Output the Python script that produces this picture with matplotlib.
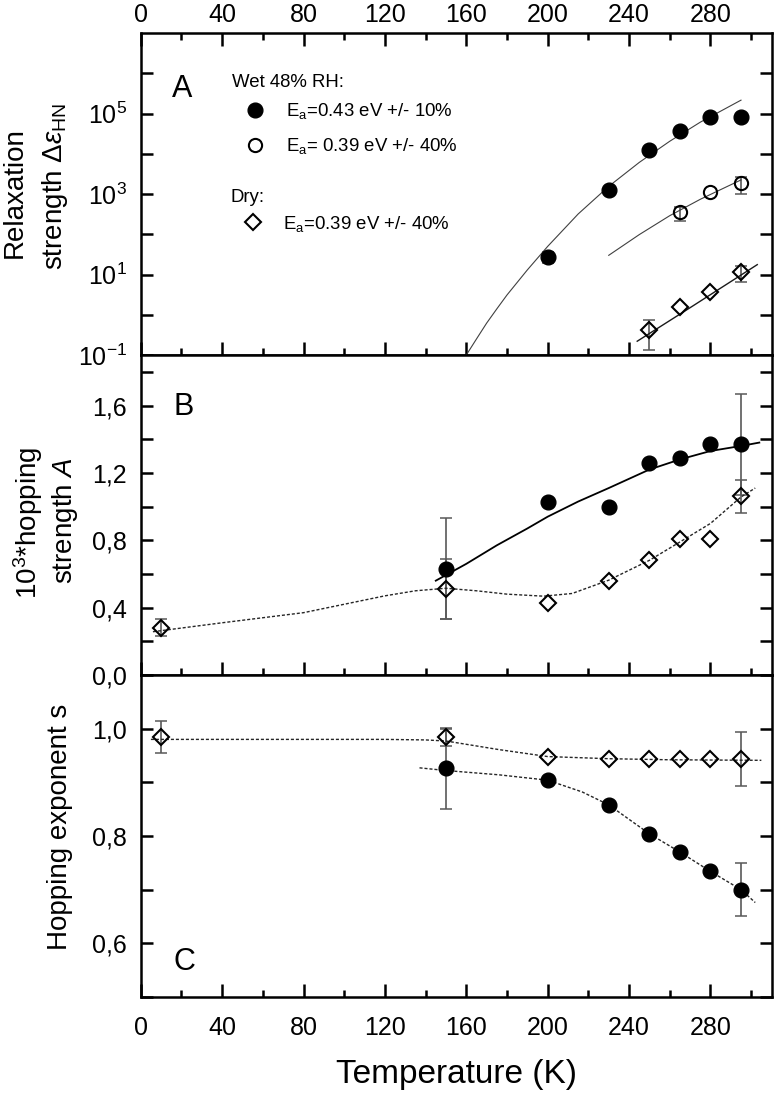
import matplotlib
matplotlib.use("Agg")
import matplotlib.pyplot as plt
import numpy as np
from matplotlib.ticker import FixedLocator, MultipleLocator, FuncFormatter, NullFormatter

plt.rcParams['font.family'] = ['Liberation Sans', 'DejaVu Sans']
plt.rcParams['mathtext.fontset'] = 'custom'
plt.rcParams['mathtext.rm'] = 'Liberation Sans'
plt.rcParams['mathtext.it'] = 'Liberation Sans:italic'
plt.rcParams['mathtext.default'] = 'regular'

# ---- Panel A: relaxation strength (log)
T_a_wet = [200, 230, 250, 265, 280, 295]
de_wet = [28, 1260, 12300, 37000, 80000, 80000]
de_wet_lo = [9, 0, 0, 0, 0, 0]
de_wet_hi = [9, 0, 0, 0, 0, 0]

T_a_wet2 = [265, 280, 295]
de_wet2 = [360, 1140, 1830]
de_wet2_lo = [150, 0, 800]
de_wet2_hi = [110, 0, 860]

T_a_dry = [250, 265, 280, 295]
de_dry = [0.43, 1.55, 3.6, 11.4]
de_dry_lo = [0.30, 0, 0, 4.7]
de_dry_hi = [0.29, 0, 0, 4.6]

# fit curves
fitA_wet_T = [160, 165, 170, 175, 180, 190, 200, 215, 230, 245, 260, 275, 295]
fitA_wet = [0.10, 0.25, 0.62, 1.4, 3.1, 13, 50, 320, 1550, 6100, 20500, 61000, 215000]
fitA_wet2_T = [230, 245, 260, 275, 295]
fitA_wet2 = [30, 98, 290, 740, 2240]
fitA_dry_T = [244, 270, 303]
fitA_dry = [0.22, 1.5, 17.6]

# ---- Panel B: hopping strength
T_b_wet = [150, 200, 230, 250, 265, 280, 295]
A_wet = [0.63, 1.03, 1.00, 1.26, 1.29, 1.37, 1.37]
A_wet_err = [0.30, 0, 0, 0, 0, 0, 0.30]
T_b_dry = [10, 150, 200, 230, 250, 265, 280, 295]
A_dry = [0.28, 0.51, 0.43, 0.56, 0.68, 0.81, 0.81, 1.06]
A_dry_err = [0.05, 0.18, 0, 0, 0, 0, 0, 0.10]

fitB_wet_T = [145, 160, 175, 190, 200, 215, 230, 250, 265, 280, 295, 304]
fitB_wet = [0.56, 0.66, 0.77, 0.87, 0.94, 1.03, 1.11, 1.22, 1.28, 1.33, 1.36, 1.38]
fitB_dry_T = [6, 40, 80, 120, 135, 150, 165, 180, 198, 212, 230, 250, 265, 280, 295, 302]
fitB_dry = [0.257, 0.31, 0.37, 0.47, 0.50, 0.515, 0.50, 0.48, 0.468, 0.484, 0.563, 0.681, 0.79, 0.90, 1.057, 1.11]

# ---- Panel C: hopping exponent
T_c_wet = [150, 200, 230, 250, 265, 280, 295]
s_wet = [0.926, 0.905, 0.858, 0.804, 0.770, 0.734, 0.700]
s_wet_err = [0.075, 0, 0, 0, 0, 0, 0.05]
T_c_dry = [10, 150, 200, 230, 250, 265, 280, 295]
s_dry = [0.984, 0.984, 0.948, 0.944, 0.943, 0.943, 0.943, 0.943]
s_dry_err = [0.03, 0.016, 0, 0, 0, 0, 0, 0.05]

fitC_wet_T = [137, 150, 176, 200, 217, 230, 250, 265, 280, 295, 302]
fitC_wet = [0.927, 0.922, 0.914, 0.904, 0.882, 0.858, 0.804, 0.770, 0.734, 0.700, 0.676]
fitC_dry_T = [5, 60, 120, 140, 150, 176, 200, 230, 260, 305]
fitC_dry = [0.980, 0.980, 0.980, 0.979, 0.977, 0.961, 0.948, 0.944, 0.942, 0.941]

x_ticks = [0, 40, 80, 120, 160, 200, 240, 280]

filled = dict(marker='o', ls='none', ms=10.6, mfc='k', mec='k', zorder=4)
opened = dict(marker='o', ls='none', ms=9.5, mfc='none', mec='k', mew=1.5, zorder=4)
diamond = dict(marker='D', ls='none', ms=7.9, mfc='none', mec='k', mew=1.5, zorder=4)
dashed = dict(color='0.15', lw=1.0, dashes=(2.2, 1.4), zorder=3)
leg_font = dict(family='Liberation Sans', size=13.4)


def barras(ax, T, y, lo, hi):
    idx = [i for i in range(len(T)) if lo[i] > 0 or hi[i] > 0]
    ax.errorbar([T[i] for i in idx], [y[i] for i in idx],
                yerr=[[lo[i] for i in idx], [hi[i] for i in idx]],
                fmt='none', ecolor='0.35', elinewidth=1.2, capsize=4.6,
                capthick=1.1, zorder=2)


def coma(v, p):
    return ('%.1f' % v).replace('.', ',')


def estilo(ax, top_labels=False, bottom_labels=False, top_ticks=False):
    ax.set_xlim(0, 310)
    ax.xaxis.set_major_locator(FixedLocator(x_ticks))
    ax.xaxis.set_minor_locator(MultipleLocator(20))
    ax.tick_params(axis='both', which='both', direction='in', width=1.8,
                   labelsize=18, right=True, top=top_ticks,
                   labeltop=top_labels, labelbottom=bottom_labels)
    ax.tick_params(axis='y', which='both', length=8.6, pad=10)
    ax.tick_params(axis='x', which='major', length=9.4)
    ax.tick_params(axis='x', which='minor', length=5)
    ax.tick_params(axis='x', which='both', pad=14 if bottom_labels else 4.5)
    for s in ax.spines.values():
        s.set_linewidth(1.8)


fig = plt.figure(figsize=(7.74, 10.94), dpi=100)
ax_a = fig.add_axes([0.1818, 0.6755, 0.8150, 0.2943])
ax_b = fig.add_axes([0.1818, 0.3830, 0.8150, 0.2925])
ax_c = fig.add_axes([0.1818, 0.0887, 0.8150, 0.2943])

# ---- panel A
ax_a.set_yscale('log')
ax_a.set_ylim(1e-1, 1e7)
ax_a.plot(fitA_wet_T, fitA_wet, color='0.25', lw=0.8, zorder=3)
ax_a.plot(fitA_wet2_T, fitA_wet2, color='0.25', lw=0.8, zorder=3)
ax_a.plot(fitA_dry_T, fitA_dry, color='0.1', lw=1.0, zorder=3)
barras(ax_a, T_a_wet, de_wet, de_wet_lo, de_wet_hi)
barras(ax_a, T_a_wet2, de_wet2, de_wet2_lo, de_wet2_hi)
barras(ax_a, T_a_dry, de_dry, de_dry_lo, de_dry_hi)
h1, = ax_a.plot(T_a_wet, de_wet, **filled)
h2, = ax_a.plot(T_a_wet2, de_wet2, **opened)
h3, = ax_a.plot(T_a_dry, de_dry, **diamond)
estilo(ax_a, top_labels=True, top_ticks=True)
ax_a.yaxis.set_major_locator(FixedLocator([1e-1, 1e1, 1e3, 1e5]))
ax_a.yaxis.set_minor_locator(FixedLocator([1e0, 1e2, 1e4, 1e6]))
ax_a.yaxis.set_major_formatter(FuncFormatter(
    lambda v, p: r'$10^{%d}$' % round(np.log10(v))))
ax_a.yaxis.set_minor_formatter(NullFormatter())
ax_a.text(0.0492, 0.800, 'A', transform=ax_a.transAxes, fontsize=22,
          ha='left', va='baseline')

# leyendas: cabeceras como texto, entradas con legend()
ax_a.text(0.1444, 0.8314, 'Wet 48% RH:', transform=ax_a.transAxes,
          fontsize=13.4, ha='left', va='baseline')
ax_a.text(0.1417, 0.4761, 'Dry:', transform=ax_a.transAxes,
          fontsize=13.4, ha='left', va='baseline')
leg1 = ax_a.legend(handles=[h1, h2],
                   labels=['E$_a$=0.43 eV +/- 10%', 'E$_a$= 0.39 eV +/- 40%'],
                   loc='upper left', bbox_to_anchor=(0.1444, 0.7879),
                   frameon=False, prop=leg_font, borderpad=0, borderaxespad=0,
                   handlelength=2.5, handletextpad=0.41, labelspacing=0.8,
                   numpoints=1)
ax_a.add_artist(leg1)
ax_a.legend(handles=[h3], labels=['E$_a$=0.39 eV +/- 40%'],
            loc='upper left', bbox_to_anchor=(0.1417, 0.4388), frameon=False,
            prop=leg_font, borderpad=0, borderaxespad=0, handlelength=2.45,
            handletextpad=0.41, numpoints=1)

# ---- panel B
ax_b.set_ylim(0, 1.9)
ax_b.plot(fitB_wet_T, fitB_wet, color='k', lw=1.3, zorder=3)
ax_b.plot(fitB_dry_T, fitB_dry, **dashed)
barras(ax_b, T_b_wet, A_wet, A_wet_err, A_wet_err)
barras(ax_b, T_b_dry, A_dry, A_dry_err, A_dry_err)
ax_b.plot(T_b_wet, A_wet, **filled)
ax_b.plot(T_b_dry, A_dry, **diamond)
estilo(ax_b)
ax_b.yaxis.set_major_locator(MultipleLocator(0.4))
ax_b.yaxis.set_minor_locator(MultipleLocator(0.2))
ax_b.yaxis.set_major_formatter(FuncFormatter(coma))
ax_b.text(0.0512, 0.8125, 'B', transform=ax_b.transAxes, fontsize=22,
          ha='left', va='baseline')

# ---- panel C
ax_c.set_ylim(0.5, 1.1)
ax_c.plot(fitC_wet_T, fitC_wet, **dashed)
ax_c.plot(fitC_dry_T, fitC_dry, **dashed)
barras(ax_c, T_c_wet, s_wet, s_wet_err, s_wet_err)
barras(ax_c, T_c_dry, s_dry, s_dry_err, s_dry_err)
ax_c.plot(T_c_wet, s_wet, **filled)
ax_c.plot(T_c_dry, s_dry, **diamond)
estilo(ax_c, bottom_labels=True)
ax_c.yaxis.set_major_locator(MultipleLocator(0.2))
ax_c.yaxis.set_minor_locator(MultipleLocator(0.1))
ax_c.yaxis.set_major_formatter(FuncFormatter(coma))
ax_c.text(0.0512, 0.0839, 'C', transform=ax_c.transAxes, fontsize=22,
          ha='left', va='baseline')

# ---- axis titles
lab = dict(rotation=90, rotation_mode='anchor', ha='center', va='baseline', fontsize=20)
fig.text(0.0280, 0.8236, 'Relaxation', **lab)
fig.text(0.0797, 0.8293, r'strength $\Delta\mathit{\varepsilon}_{HN}$', **lab)
fig.text(0.0484, 0.5220, r'10$^3$*hopping', **lab)
fig.text(0.0925, 0.5238, r'strength $\mathit{A}$', **lab)
fig.text(0.0860, 0.2441, 'Hopping exponent s', **lab)
fig.text(0.5898, 0.0100, 'Temperature (K)', ha='center', va='baseline', fontsize=24)

fig.savefig('out.png', dpi=100)
